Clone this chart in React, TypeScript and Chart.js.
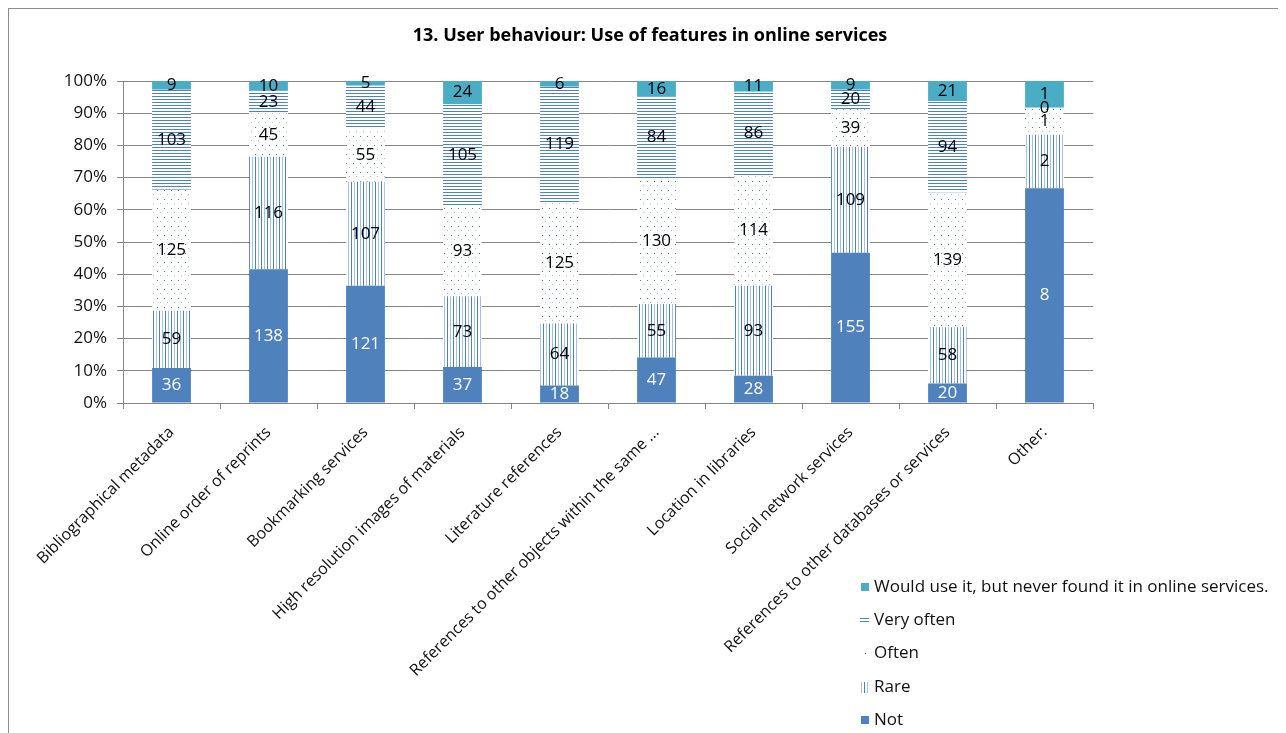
import React, { useEffect, useRef } from "react";
import { Chart, registerables } from "chart.js";

Chart.register(...registerables);

const title = "13. User behaviour: Use of features in online services";

const categories = [
  "Bibliographical metadata",
  "Online order of reprints",
  "Bookmarking services",
  "High resolution images of materials",
  "Literature references",
  "References to other objects within the same ...",
  "Location in libraries",
  "Social network services",
  "References to other databases or services",
  "Other:",
];

const seriesNames = [
  "Not",
  "Rare",
  "Often",
  "Very often",
  "Would use it, but never found it in online services.",
];

const notUsed = [36, 138, 121, 37, 18, 47, 28, 155, 20, 8];
const rare = [59, 116, 107, 73, 64, 55, 93, 109, 58, 2];
const often = [125, 45, 55, 93, 125, 130, 114, 39, 139, 1];
const veryOften = [103, 23, 44, 105, 119, 84, 86, 20, 94, 0];
const neverFound = [9, 10, 5, 24, 6, 16, 11, 9, 21, 1];

const yTickValues = [0, 10, 20, 30, 40, 50, 60, 70, 80, 90, 100];

const DARK = "#4F81BD";
const LIGHT = "#A7C0DE";
const TEAL = "#4BACC6";
const GRID = "#868686";
const FONT = "'Open Sans', sans-serif";

function makePattern(kind: string): CanvasPattern | string {
  const c = document.createElement("canvas");
  const ctx = c.getContext("2d")!;
  if (kind === "hlines") {
    c.width = 4;
    c.height = 3;
    ctx.fillStyle = "#fff";
    ctx.fillRect(0, 0, 4, 3);
    ctx.fillStyle = DARK;
    ctx.fillRect(0, 0, 4, 1);
  } else if (kind === "vlines") {
    c.width = 6;
    c.height = 4;
    ctx.fillStyle = "#fff";
    ctx.fillRect(0, 0, 6, 4);
    ctx.fillStyle = DARK;
    ctx.fillRect(0, 0, 1, 4);
    ctx.fillStyle = LIGHT;
    ctx.fillRect(3, 0, 1, 4);
  } else {
    c.width = 7;
    c.height = 9;
    ctx.fillStyle = "#fff";
    ctx.fillRect(0, 0, 7, 9);
    ctx.fillStyle = DARK;
    ctx.fillRect(1, 1, 1, 1);
    ctx.fillStyle = LIGHT;
    ctx.fillRect(4, 5, 1, 1);
  }
  return ctx.createPattern(c, "repeat") as CanvasPattern;
}

export default function App() {
  const ref = useRef<HTMLCanvasElement>(null);

  useEffect(() => {
    if (!ref.current) return;
    const counts = [notUsed, rare, often, veryOften, neverFound];
    const totals = categories.map((_, i) =>
      counts.reduce((s, arr) => s + arr[i], 0)
    );
    const fills = [DARK, makePattern("vlines"), makePattern("dots"), makePattern("hlines"), TEAL];
    const labelColors = ["#fff", "#000", "#000", "#000", "#000"];

    const datasets = counts.map((arr, k) => ({
      label: seriesNames[k],
      data: arr.map((v, i) => (v / totals[i]) * 100),
      backgroundColor: fills[k] as any,
      borderWidth: 0,
      categoryPercentage: 1,
      barPercentage: 0.4,
      stack: "s",
    }));

    const dataLabels = {
      id: "dataLabels",
      afterDatasetsDraw(chart: any) {
        const ctx = chart.ctx;
        ctx.save();
        ctx.font = `17px ${FONT}`;
        ctx.textAlign = "center";
        ctx.textBaseline = "middle";
        chart.data.datasets.forEach((_: any, k: number) => {
          const meta = chart.getDatasetMeta(k);
          meta.data.forEach((el: any, i: number) => {
            const y = (el.y + el.base) / 2;
            ctx.fillStyle = labelColors[k];
            ctx.fillText(String(counts[k][i]), el.x, y);
          });
        });
        ctx.restore();
      },
    };

    const legendRows = [4, 3, 2, 1, 0];
    const legendY = [578, 611, 644, 678, 711];
    const customLegend = {
      id: "customLegend",
      afterDraw(chart: any) {
        const ctx = chart.ctx;
        ctx.save();
        // title
        ctx.font = `bold 18px ${FONT}`;
        ctx.textAlign = "center";
        ctx.textBaseline = "middle";
        ctx.fillStyle = "#000";
        ctx.fillText(title, 641, 27);
        // legend
        ctx.font = `17px ${FONT}`;
        ctx.textAlign = "left";
        ctx.textBaseline = "middle";
        legendRows.forEach((k, r) => {
          const y = legendY[r];
          const x = 851;
          if (k === 4 || k === 0) {
            ctx.fillStyle = k === 4 ? TEAL : DARK;
            ctx.fillRect(x + 1, y - 4, 8, 8);
          } else if (k === 3) {
            ctx.fillStyle = DARK;
            ctx.fillRect(x, y - 2, 9, 1);
            ctx.fillRect(x, y + 1, 9, 1);
          } else if (k === 2) {
            ctx.fillStyle = DARK;
            ctx.fillRect(x + 5, y, 1, 1);
          } else {
            ctx.fillStyle = LIGHT;
            ctx.fillRect(x + 1, y - 5, 1, 11);
            ctx.fillRect(x + 7, y - 5, 1, 11);
            ctx.fillStyle = DARK;
            ctx.fillRect(x + 4, y - 5, 1, 11);
          }
          ctx.fillStyle = "#111";
          ctx.fillText(seriesNames[k], 865, y);
        });
        ctx.restore();
      },
    };

    const chart = new Chart(ref.current, {
      type: "bar",
      data: { labels: categories, datasets },
      plugins: [dataLabels, customLegend],
      options: {
        animation: false,
        responsive: false,
        maintainAspectRatio: false,
        layout: { padding: { left: 0, right: 193, top: 72, bottom: 0 } },
        plugins: {
          legend: { display: false },
          tooltip: { enabled: false },
          title: { display: false },
        },
        scales: {
          x: {
            stacked: true,
            grid: {
              offset: true,
              drawOnChartArea: false,
              drawTicks: true,
              tickLength: 6,
              color: GRID,
            },
            border: { display: true, color: GRID },
            ticks: {
              autoSkip: false,
              maxRotation: 45,
              minRotation: 45,
              padding: 14,
              color: "#111",
              font: { family: FONT, size: 16 },
            },
            afterFit(scale: any) {
              scale.height = 330;
            },
          },
          y: {
            stacked: true,
            min: 0,
            max: 100,
            afterBuildTicks(scale: any) {
              scale.ticks = yTickValues.map((v) => ({ value: v }));
            },
            grid: { color: GRID, tickLength: 6 },
            border: { display: true, color: GRID },
            ticks: {
              padding: 10,
              color: "#111",
              font: { family: FONT, size: 17 },
              callback: (v: any) => `${v}%`,
            },
            afterFit(scale: any) {
              scale.width = 114;
            },
          },
        },
      },
    });
    return () => chart.destroy();
  }, []);

  return (
    <div
      style={{
        position: "relative",
        width: 1277,
        height: 724,
        borderLeft: "1px solid #8c8c8c",
        borderTop: "1px solid #8c8c8c",
        overflow: "hidden",
        background: "#fff",
      }}
    >
      <canvas ref={ref} width={1277} height={724} style={{ display: "block" }} />
    </div>
  );
}
